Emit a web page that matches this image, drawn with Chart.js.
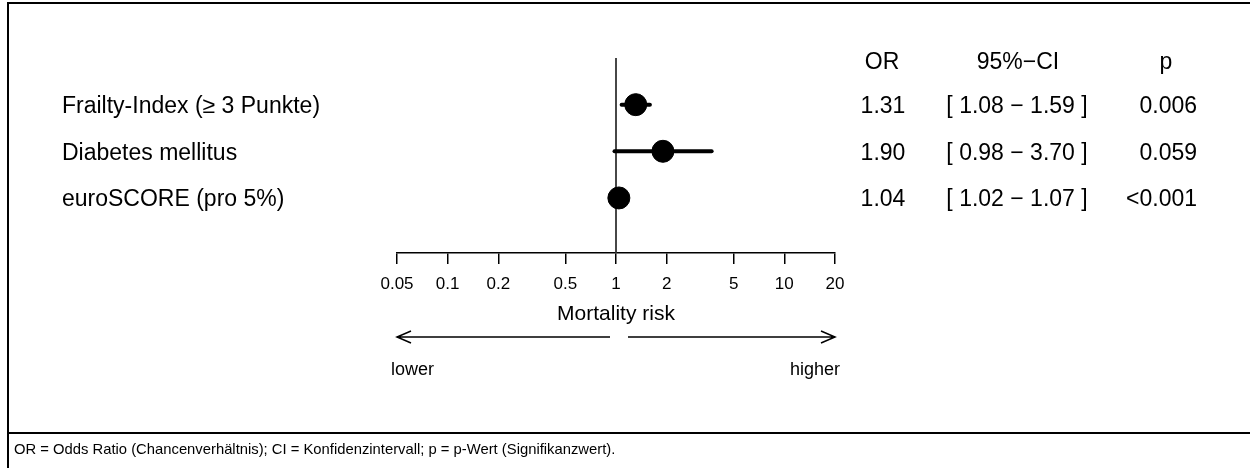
<!DOCTYPE html>
<html>
<head>
<meta charset="utf-8">
<script src="https://cdn.jsdelivr.net/npm/chart.js@4/dist/chart.umd.min.js"></script>
<style>
  html, body { margin: 0; padding: 0; background: #fff; }
  #wrap { position: absolute; left: 0; top: 0; width: 1250px; height: 468px; }
</style>
</head>
<body>
<div id="wrap"><canvas id="forest" width="1250" height="468"></canvas></div>
<script>
// Forest plot: odds ratios for mortality

const rowLabels = ['Frailty-Index (\u2265 3 Punkte)', 'Diabetes mellitus', 'euroSCORE (pro 5%)'];
const rowPos = [3, 2, 1];
const oddsRatios = [1.31, 1.90, 1.04];
const ciLower = [1.08, 0.98, 1.02];
const ciUpper = [1.59, 3.70, 1.07];
const pValues = ['0.006', '0.059', '<0.001'];
const xTicks = [0.05, 0.1, 0.2, 0.5, 1, 2, 5, 10, 20];
const tableHeader = ['OR', '95%\u2212CI', 'p'];
const footnote = 'OR = Odds Ratio (Chancenverh\u00e4ltnis); CI = Konfidenzintervall; p = p-Wert (Signifikanzwert).';

const FONT = '"Liberation Sans", Arial, sans-serif';
const yMin = -0.18;
const yMax = 4;

// one small line dataset per confidence interval
const ciSets = rowPos.map((y, i) => ({
    type: 'line',
    data: [{ x: ciLower[i], y: y }, { x: ciUpper[i], y: y }],
    borderColor: '#000',
    borderWidth: 4,
    borderCapStyle: 'round',
    pointRadius: 0,
    clip: false,
    order: 2
}));

const fmtCi = i => `[ ${ciLower[i].toFixed(2)} \u2212 ${ciUpper[i].toFixed(2)} ]`;

const decorPlugin = {
    id: 'decor',
    afterDraw(chart) {
        const ctx = chart.ctx;
        const xs = chart.scales.x;
        const ys = chart.scales.y;
        ctx.save();

        // frame and footer rule
        ctx.fillStyle = '#000';
        ctx.fillRect(7, 2, 1243, 2);
        ctx.fillRect(7, 2, 2, 466);
        ctx.fillRect(7, 432, 1243, 2);

        ctx.fillStyle = '#000';
        ctx.textBaseline = 'middle';

        // row labels
        ctx.font = `23px ${FONT}`;
        ctx.textAlign = 'left';
        rowLabels.forEach((lab, i) => {
            ctx.fillText(lab, 62, ys.getPixelForValue(rowPos[i]) + 2);
        });

        // table on the right
        ctx.font = `23px ${FONT}`;
        const headY = ys.getPixelForValue(yMax) + 5;
        ctx.textAlign = 'center';
        ctx.fillText(tableHeader[0], 882, headY);
        ctx.fillText(tableHeader[1], 1018, headY);
        ctx.fillText(tableHeader[2], 1166, headY);
        rowPos.forEach((y, i) => {
            const py = ys.getPixelForValue(y) + 2;
            ctx.textAlign = 'center';
            ctx.fillText(oddsRatios[i].toFixed(2), 883, py);
            ctx.fillText(fmtCi(i), 1017, py);
            ctx.textAlign = 'right';
            ctx.fillText(pValues[i], 1197, py);
        });

        // direction arrows
        const xl = xs.getPixelForValue(xTicks[0]);
        const xr = xs.getPixelForValue(xTicks[xTicks.length - 1]);
        const x1 = xs.getPixelForValue(1);
        const ay = 337;
        ctx.strokeStyle = '#000';
        ctx.lineWidth = 1.5;
        ctx.beginPath();
        ctx.moveTo(x1 - 6, ay); ctx.lineTo(xl, ay);
        ctx.moveTo(xl + 14, ay - 6); ctx.lineTo(xl, ay); ctx.lineTo(xl + 14, ay + 6);
        ctx.moveTo(x1 + 12, ay); ctx.lineTo(xr, ay);
        ctx.moveTo(xr - 14, ay - 6); ctx.lineTo(xr, ay); ctx.lineTo(xr - 14, ay + 6);
        ctx.stroke();

        ctx.font = `18px ${FONT}`;
        ctx.textAlign = 'left';
        ctx.fillText('lower', xl - 6, 370);
        ctx.textAlign = 'right';
        ctx.fillText('higher', xr + 5, 370);

        // footnote
        ctx.font = `14.8px ${FONT}`;
        ctx.textAlign = 'left';
        ctx.fillText(footnote, 14, 450);
        ctx.restore();
    }
};

new Chart(document.getElementById('forest'), {
    type: 'scatter',
    data: {
        datasets: [
            {
                data: rowPos.map((y, i) => ({ x: oddsRatios[i], y: y })),
                backgroundColor: '#000',
                borderColor: '#000',
                pointRadius: 11,
                pointHoverRadius: 11,
                clip: false,
                order: 1
            },
            ...ciSets,
            {
                type: 'line',
                data: [{ x: 1, y: yMin }, { x: 1, y: yMax }],
                borderColor: '#333',
                borderWidth: 1.8,
                pointRadius: 0,
                clip: false,
                order: 3
            }
        ]
    },
    options: {
        responsive: false,
        animation: false,
        devicePixelRatio: 1,
        layout: { padding: { left: 397, right: 415, top: 58, bottom: 115 } },
        plugins: {
            legend: { display: false },
            tooltip: { enabled: false }
        },
        scales: {
            x: {
                type: 'logarithmic',
                min: 0.05,
                max: 20,
                afterBuildTicks: scale => {
                    scale.ticks = xTicks.map(v => ({ value: v }));
                },
                afterFit: scale => { scale.height = 100; },
                ticks: {
                    color: '#000',
                    font: { family: FONT, size: 17 },
                    padding: 10,
                    maxRotation: 0,
                    autoSkip: false,
                    callback: v => String(v)
                },
                grid: {
                    drawOnChartArea: false,
                    drawTicks: true,
                    tickLength: 11,
                    color: '#000',
                    lineWidth: 1.5
                },
                border: { display: true, color: '#000', width: 1.5 },
                title: {
                    display: true,
                    text: 'Mortality risk',
                    color: '#000',
                    font: { family: FONT, size: 21 },
                    padding: { top: 0, bottom: 26 }
                }
            },
            y: {
                type: 'linear',
                display: false,
                min: yMin,
                max: yMax
            }
        }
    },
    plugins: [decorPlugin]
});
</script>
</body>
</html>
